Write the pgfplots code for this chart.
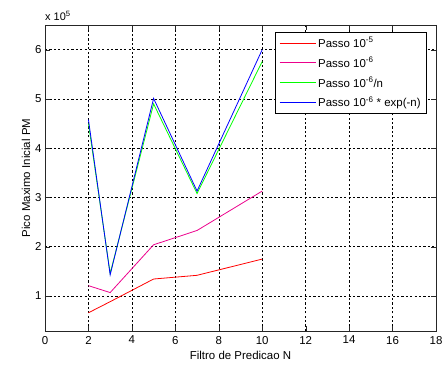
\documentclass[border=0pt]{standalone}
\usepackage{pgfplots}
\pgfplotsset{compat=1.18}
\usepackage{fontspec}
\setmainfont{Liberation Sans}
\begin{document}
\begin{tikzpicture}
\useasboundingbox (-45bp,-36bp) rectangle (401bp,331bp);
\begin{axis}[
  at={(0,0)}, anchor=south west,
  scale only axis, width=391bp, height=306bp,
  xmin=0, xmax=18, ymin=0.29, ymax=6.5,
  xtick={0,2,...,18}, ytick={1,2,3,4,5,6},
  tick align=inside, major tick length=5bp,
  grid=major, major grid style={black, dash pattern=on 2.2bp off 2.2bp, line width=0.5pt},
  axis line style={black!85, line width=0.7pt},
  tick style={black!85},
  every tick label/.append style={font=\fontsize{11.5}{13}\selectfont},
  xticklabel style={yshift=-1.5bp},
  /pgf/number format/assume math mode=true,
  xlabel={Filtro de Predicao N}, ylabel={Pico Maximo Inicial PM},
  label style={font=\fontsize{11.5}{13}\selectfont},
  xlabel style={yshift=0bp},
  ylabel style={yshift=-2bp},
  legend style={at={(0.977,0.977)}, anchor=north east, draw=black, line width=0.7pt,
    font=\fontsize{11.5}{13}\selectfont, row sep=4.5bp, inner xsep=4bp, inner ysep=3bp},
  legend cell align=left,
  legend image code/.code={\draw[mark repeat=2,mark phase=2,#1, line width=1.1bp] plot coordinates {(0bp,0bp) (18bp,0bp) (36bp,0bp)};},
]
\addplot[red, line width=0.8pt] coordinates {(2,0.66) (3,0.885) (5,1.345) (7,1.42) (10,1.75)};
\addlegendentry{Passo 10\textsuperscript{-5}}
\addplot[magenta, line width=0.8pt] coordinates {(2,1.21) (3,1.07) (5,2.04) (7,2.33) (10,3.13)};
\addlegendentry{Passo 10\textsuperscript{-6}}
\addplot[green, line width=0.8pt] coordinates {(2,4.50) (3,1.46) (5,4.90) (7,3.08) (10,5.76)};
\addlegendentry{Passo 10\textsuperscript{-6}/n}
\addplot[blue, line width=0.8pt] coordinates {(2,4.58) (3,1.43) (5,5.01) (7,3.13) (10,6.0)};
\addlegendentry{Passo 10\textsuperscript{-6} * exp(-n)}
\end{axis}
\node[anchor=south west, font=\fontsize{11}{13}\selectfont, inner sep=0pt] at (0bp,310bp) {x 10\textsuperscript{5}};
\end{tikzpicture}
\end{document}
